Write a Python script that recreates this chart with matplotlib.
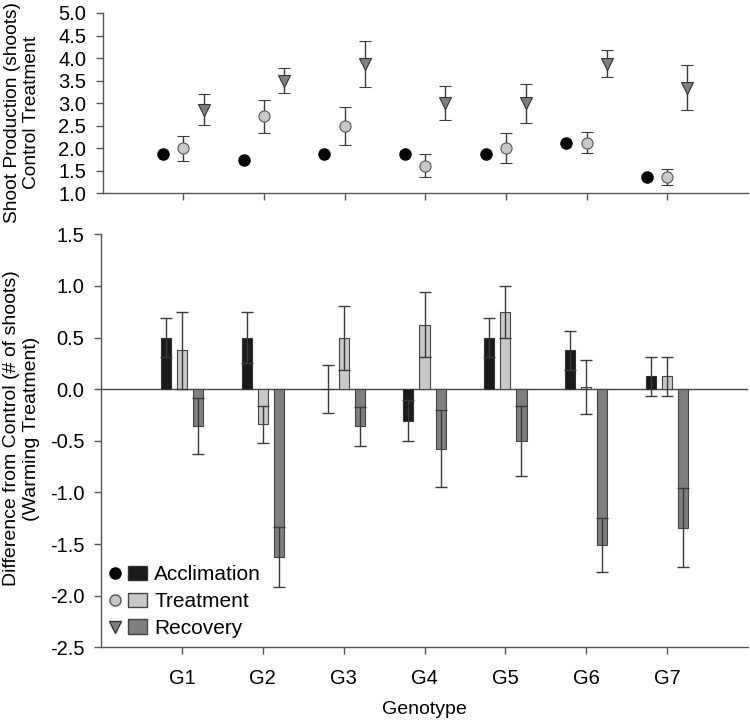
import numpy as np
import matplotlib
matplotlib.use('Agg')
import matplotlib.pyplot as plt
from matplotlib.lines import Line2D
from matplotlib.patches import Patch
from matplotlib.legend_handler import HandlerTuple

plt.rcParams['font.family'] = ['Liberation Sans', 'DejaVu Sans']

# ------------------------------------------------------------
# Data
# ------------------------------------------------------------
genotypes = ['G1', 'G2', 'G3', 'G4', 'G5', 'G6', 'G7']
phases = ['Acclimation', 'Treatment', 'Recovery']

# top panel: control treatment shoot production (mean, SE)
ctrl_acc = [1.875, 1.75, 1.875, 1.875, 1.875, 2.125, 1.375]
ctrl_trt = [2.0, 2.71, 2.5, 1.62, 2.0, 2.13, 1.37]
ctrl_trt_err = [0.27, 0.36, 0.42, 0.26, 0.33, 0.23, 0.18]
ctrl_rec = [2.86, 3.5, 3.86, 3.0, 3.0, 3.88, 3.34]
ctrl_rec_err = [0.34, 0.27, 0.51, 0.38, 0.43, 0.30, 0.50]

# bottom panel: difference from control under warming (mean, SE)
diff_acc = [0.5, 0.5, 0.0, -0.305, 0.5, 0.378, 0.125]
diff_acc_err = [0.185, 0.25, 0.23, 0.20, 0.185, 0.19, 0.19]
diff_trt = [0.375, -0.34, 0.5, 0.625, 0.75, 0.02, 0.125]
diff_trt_err = [0.37, 0.18, 0.31, 0.315, 0.25, 0.26, 0.19]
diff_rec = [-0.36, -1.625, -0.36, -0.575, -0.5, -1.51, -1.34]
diff_rec_err = [0.27, 0.29, 0.19, 0.37, 0.34, 0.265, 0.38]

col_acc = '#1a1a1a'
col_trt = '#c8c8c8'
col_rec = '#7f7f7f'
col_err = '#3a3a3a'
col_spine = '#555555'

x = np.arange(1, len(genotypes) + 1)

fig = plt.figure(figsize=(7.5, 7.22), dpi=100)
ax1 = fig.add_axes([0.137, 0.732, 0.860, 0.250])
ax2 = fig.add_axes([0.135, 0.1035, 0.862, 0.572])

# ---------------- top panel ----------------
dx = 0.25
ax1.plot(x - dx, ctrl_acc, 'o', color='black', markersize=8, zorder=4)
ax1.errorbar(x, ctrl_trt, yerr=ctrl_trt_err, fmt='o', color=col_trt,
             markersize=8, markeredgecolor='#555555', markeredgewidth=0.8,
             ecolor=col_err, elinewidth=1.0, capsize=4, capthick=1.0, zorder=4)
ax1.errorbar(x + dx, ctrl_rec, yerr=ctrl_rec_err, fmt='v', color=col_rec,
             markersize=8.5, markeredgecolor='#333333', markeredgewidth=0.8,
             ecolor=col_err, elinewidth=1.0, capsize=4, capthick=1.0, zorder=4)

ax1.set_xlim(0, 8)
ax1.set_ylim(1.0, 5.0)
ax1.set_yticks(np.arange(1.0, 5.01, 0.5))
ax1.set_yticklabels([f'{v:.1f}' for v in np.arange(1.0, 5.01, 0.5)])
ax1.set_xticks(x)
ax1.set_xticklabels([])
ax1.set_ylabel('Shoot Production (shoots)\nControl Treatment', fontsize=13.8)
ax1.yaxis.set_label_coords(-0.097, 0.45)

# ---------------- bottom panel ----------------
bx = 0.2
bw = 0.125
ekw = dict(ecolor=col_err, elinewidth=1.0, capsize=4, capthick=1.0, zorder=4)
ax2.bar(x - bx, diff_acc, width=bw, color=col_acc, edgecolor='#333333',
        linewidth=0.8, yerr=diff_acc_err, error_kw=ekw, zorder=3)
ax2.bar(x, diff_trt, width=bw, color=col_trt, edgecolor='#444444',
        linewidth=0.8, yerr=diff_trt_err, error_kw=ekw, zorder=3)
ax2.bar(x + bx, diff_rec, width=bw, color=col_rec, edgecolor='#444444',
        linewidth=0.8, yerr=diff_rec_err, error_kw=ekw, zorder=3)
ax2.axhline(0, color='#444444', linewidth=1.0, zorder=2)

ax2.set_xlim(0, 8)
ax2.set_ylim(-2.5, 1.5)
yt = np.arange(-2.5, 1.51, 0.5)
ax2.set_yticks(yt)
ax2.set_yticklabels([f'{v:.1f}' for v in yt])
ax2.set_xticks(x)
ax2.set_xticklabels(genotypes)
ax2.set_xlabel('Genotype', fontsize=14, labelpad=9)
ax2.set_ylabel('Difference from Control (# of shoots)\n(Warming Treatment)',
               fontsize=14)
ax2.yaxis.set_label_coords(-0.095, 0.53)

for ax in (ax1, ax2):
    ax.spines['top'].set_visible(False)
    ax.spines['right'].set_visible(False)
    for s in ('left', 'bottom'):
        ax.spines[s].set_color(col_spine)
        ax.spines[s].set_linewidth(1.0)
    ax.tick_params(direction='out', length=5, width=1.0, color=col_spine,
                   labelsize=14.5, pad=7)
ax2.tick_params(axis='x', pad=11)

# legend: marker + bar swatch per phase
h_acc = (Line2D([], [], marker='o', linestyle='none', color='black', markersize=8),
         Patch(facecolor=col_acc, edgecolor='#333333'))
h_trt = (Line2D([], [], marker='o', linestyle='none', color=col_trt,
                markeredgecolor='#555555', markersize=8),
         Patch(facecolor=col_trt, edgecolor='#444444'))
h_rec = (Line2D([], [], marker='v', linestyle='none', color=col_rec,
                markeredgecolor='#333333', markersize=8),
         Patch(facecolor=col_rec, edgecolor='#444444'))
ax2.legend([h_acc, h_trt, h_rec], phases,
           handler_map={tuple: HandlerTuple(ndivide=None, pad=0.15)},
           loc='lower left', bbox_to_anchor=(-0.013, -0.008), frameon=False,
           fontsize=15, handlelength=2.0, handleheight=0.7,
           handletextpad=0.35, labelspacing=0.38, borderaxespad=0.2)

plt.savefig('out.png', dpi=100)
